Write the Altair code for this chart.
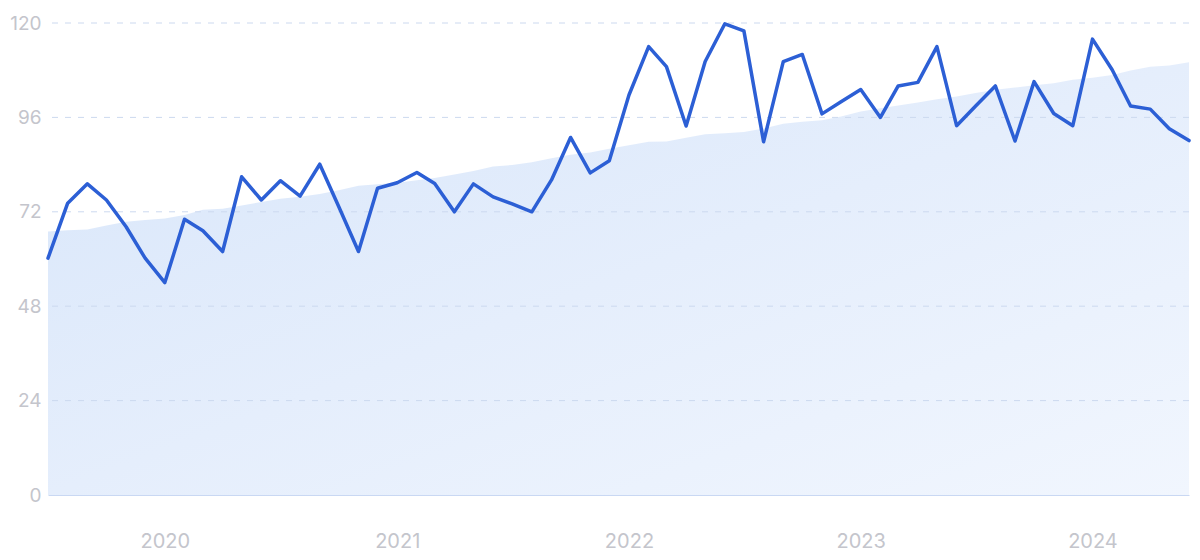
import altair as alt
import pandas as pd

# Monthly points, Jul 2019 .. Jun 2024
months = pd.date_range("2019-07-01", periods=60, freq="MS")

interest = [60.2, 74.2, 79.1, 75.0, 68.2, 60.2, 54.0, 70.1, 67.2, 61.9,
            80.9, 75.0, 79.9, 76.0, 84.1, 73.3, 61.9, 78.0, 79.4, 82.0,
            79.2, 72.0, 79.1, 75.8, 74.0, 72.0, 80.1, 90.9, 81.9, 85.0,
            101.7, 114.0, 108.9, 93.8, 110.2, 119.8, 118.0, 89.8, 110.2, 112.0,
            96.9, 100.0, 103.1, 96.0, 104.0, 104.9, 114.0, 93.9, 98.9, 104.0,
            90.0, 105.1, 97.0, 93.9, 115.9, 108.1, 98.9, 98.1, 93.1, 90.1]

trend = [67.0, 67.3, 67.5, 68.5, 69.5, 69.9, 70.3, 71.2, 72.5, 72.8,
         73.6, 74.5, 75.3, 75.8, 76.5, 77.5, 78.6, 79.0, 79.4, 80.0,
         80.6, 81.5, 82.4, 83.5, 83.9, 84.6, 85.6, 86.5, 87.1, 88.0,
         88.9, 89.8, 89.9, 90.8, 91.7, 92.0, 92.3, 93.2, 94.4, 94.9,
         95.3, 96.2, 97.5, 98.3, 99.0, 99.8, 100.6, 101.3, 102.2, 103.0,
         103.6, 104.2, 104.7, 105.6, 106.1, 106.8, 107.9, 108.9, 109.2, 110.0]

y_ticks = [0, 24, 48, 72, 96, 120]
grid_values = [24, 48, 72, 96, 120]
year_ticks = [2020, 2021, 2022, 2023, 2024]


def ms(ts):
    return int(pd.Timestamp(ts).value // 10**6)


df = pd.DataFrame({
    "date": [ms(m) for m in months],
    "interest": interest,
    "trend": trend,
})
grid_df = pd.DataFrame({"v": grid_values})

x_domain = [ms(months[0]), ms(months[-1])]
year_ms = [ms(f"{y}-01-01") for y in year_ticks]

font = "Inter"
label_color = "#c4c5cc"

x_enc = alt.X(
    "date:T",
    scale=alt.Scale(type="utc", domain=x_domain, nice=False),
    axis=alt.Axis(
        values=year_ms, format="%Y", title=None, ticks=False, grid=False,
        domain=True, domainColor="#c9d8f3", domainWidth=1,
        labelFont=font, labelFontSize=20, labelColor=label_color,
        labelPadding=36, labelAlign="center",
    ),
)
y_scale = alt.Scale(domain=[0, 120], nice=False)

area = alt.Chart(df).mark_area(
    color=alt.Gradient(
        gradient="linear",
        stops=[
            alt.GradientStop(color="#d8e6fa", offset=0),
            alt.GradientStop(color="#e5eefc", offset=0.5),
            alt.GradientStop(color="#f1f6fe", offset=1),
        ],
        x1=0, y1=0, x2=1, y2=1,
    )
).encode(
    x=x_enc,
    y=alt.Y(
        "trend:Q", scale=y_scale,
        axis=alt.Axis(
            values=y_ticks, title=None, ticks=False, grid=False, domain=False,
            labelFont=font, labelFontSize=19, labelColor=label_color,
            labelPadding=7,
        ),
    ),
)

grid = alt.Chart(grid_df).mark_rule(
    color="#ccd9ef", strokeWidth=1, strokeDash=[6, 7]
).encode(
    y=alt.Y("v:Q", scale=y_scale),
)

line = alt.Chart(df).mark_line(
    color="#2c5fd5", strokeWidth=3.5, strokeJoin="round", strokeCap="round"
).encode(
    x=alt.X("date:T"),
    y=alt.Y("interest:Q", scale=y_scale),
)

chart = alt.layer(area, grid, line).properties(
    width=1141,
    height=472,
    autosize=alt.AutoSizeParams(type="none"),
    padding={"left": 40, "top": 15, "right": 3, "bottom": 58},
    background="#ffffff",
).configure_view(stroke=None, strokeWidth=0)

chart.save("out.html", embed_options={"renderer": "svg", "actions": False})
